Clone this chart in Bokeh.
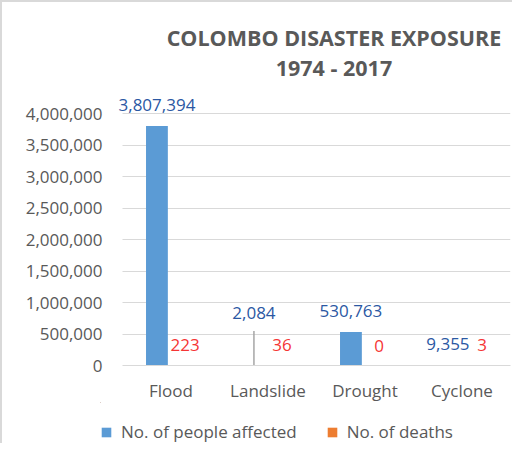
from bokeh.plotting import figure
from bokeh.layouts import column
from bokeh.models import (ColumnDataSource, Range1d, FixedTicker,
                          NumeralTickFormatter, Label, Legend, LegendItem)
from bokeh.transform import dodge
from bokeh.core.properties import value
from bokeh.embed import file_html
from bokeh.resources import INLINE

# ---- data ----
categories = ["Flood", "Landslide", "Drought", "Cyclone"]
affected = [3807394, 2084, 530763, 9355]
deaths = [223, 36, 0, 3]
y_ticks = [0, 500000, 1000000, 1500000, 2000000, 2500000, 3000000, 3500000, 4000000]
title_lines = ["COLOMBO DISASTER EXPOSURE", "1974 - 2017"]
series_names = ["No. of people affected", "No. of deaths"]

FONT = "Open Sans"
GREY = "#595959"
BLUE = "#5B9BD5"
ORANGE = "#ED7D31"
GRID = "#D9D9D9"

# category slots on a numeric axis (slot i centred at i + 0.5)
x_pos = [i + 0.5 for i in range(len(categories))]
n_cat = len(categories)

# label placement helpers (Landslide label lifted with a leader line)
aff_label_y = list(affected)
aff_label_y[1] = 500000
leader_top = 550000
death_nudge = [0, 0, 0, 6]

src = ColumnDataSource(dict(
    x=x_pos,
    affected=affected,
    deaths=deaths,
    aff_label_y=aff_label_y,
    aff_text=[f"{v:,}" for v in affected],
    death_text=[f"{v:,}" for v in deaths],
    death_nudge=death_nudge,
))
leader_src = ColumnDataSource(dict(x=[x_pos[1]], y0=[affected[1]], y1=[leader_top]))

p = figure(x_range=Range1d(-0.2268, n_cat), y_range=Range1d(0, 5533600),
           width=512, height=402, output_backend="svg", toolbar_location=None,
           min_border_left=98, min_border_right=4, min_border_top=15, min_border_bottom=37)
p.styles = {"border-top": "2px solid #D9D9D9", "border-left": "2px solid #D9D9D9"}
p.outline_line_color = None
p.background_fill_color = None
p.border_fill_color = "white"

# axes
p.yaxis.ticker = FixedTicker(ticks=y_ticks)
p.yaxis.formatter = NumeralTickFormatter(format="0,0")
p.yaxis.axis_line_color = None
p.yaxis.major_tick_line_color = None
p.yaxis.minor_tick_line_color = None
p.yaxis.major_tick_out = 0
p.yaxis.major_label_standoff = -2
p.xaxis.ticker = FixedTicker(ticks=x_pos)
p.xaxis.major_label_overrides = {x: c for x, c in zip(x_pos, categories)}
p.xaxis.bounds = (0, n_cat)
p.xaxis.axis_line_color = GRID
p.xaxis.axis_line_width = 1
p.xaxis.major_tick_line_color = None
p.xaxis.minor_tick_line_color = None
p.xaxis.major_tick_out = 0
p.xaxis.major_label_standoff = 13
for ax in (p.xaxis, p.yaxis):
    ax.major_label_text_font = FONT
    ax.major_label_text_font_size = "17px"
    ax.major_label_text_color = GREY

p.xgrid.grid_line_color = None
p.ygrid.ticker = FixedTicker(ticks=y_ticks)
p.ygrid.grid_line_color = GRID
p.ygrid.grid_line_width = 1
p.ygrid.cross_bounds = (0, n_cat)

# bars
r1 = p.vbar(x=dodge("x", -0.145), top="affected", width=0.225,
            source=src, fill_color=BLUE, line_color=None)
r2 = p.vbar(x=dodge("x", 0.145), top="deaths", width=0.225,
            source=src, fill_color=ORANGE, line_color=None)

# leader line
p.segment(x0=dodge("x", -0.145), y0="y0", x1=dodge("x", -0.145), y1="y1",
          source=leader_src, line_color="#A6A6A6", line_width=1.5)

# data labels
p.text(x=dodge("x", -0.145), y="aff_label_y", text="aff_text",
       source=src, text_align="center", text_baseline="middle", y_offset=-21,
       text_font=value(FONT), text_font_size="17px", text_color="#2B58A3")
p.text(x=dodge("x", 0.145), y="deaths", text="death_text",
       source=src, text_align="center", text_baseline="middle", y_offset=-20,
       x_offset="death_nudge",
       text_font=value(FONT), text_font_size="17px", text_color="#F53535")

# title
for txt, ty in zip(title_lines, [5209000, 4735000]):
    p.add_layout(Label(x=2.18, y=ty, text=txt, text_align="center",
                       text_baseline="middle", text_font=FONT, text_font_size="21.5px",
                       text_font_style="bold", text_color=GREY))

# legend strip (separate small figure below the chart; frames are aligned by the column)
pl = figure(width=512, height=41, output_backend="svg", toolbar_location=None,
            x_range=Range1d(10, 11), y_range=Range1d(-2, -1),
            x_axis_type=None, y_axis_type=None,
            min_border_left=0, min_border_right=0, min_border_top=0, min_border_bottom=0)
pl.styles = {"border-left": "2px solid #D9D9D9"}
pl.outline_line_color = None
pl.xgrid.visible = False
pl.ygrid.visible = False
# same series drawn off-range in the strip, only so the legend has swatches
l1 = pl.vbar(x="x", top="affected", width=0.1, source=src, fill_color=BLUE, line_color=None)
l2 = pl.vbar(x="x", top="deaths", width=0.1, source=src, fill_color=ORANGE, line_color=None)
legend = Legend(items=[LegendItem(label=series_names[0], renderers=[l1]),
                       LegendItem(label=series_names[1], renderers=[l2])],
                orientation="horizontal", location=(0, 0),
                glyph_width=12, glyph_height=12, label_standoff=9, spacing=29,
                padding=0, margin=0, border_line_color=None, background_fill_alpha=0,
                label_text_font=FONT, label_text_font_size="17px", label_text_color=GREY,
                label_text_line_height=1.0)
pl.add_layout(legend, "center")

layout = column(p, pl)
open("out.html", "w").write(file_html(layout, INLINE))
